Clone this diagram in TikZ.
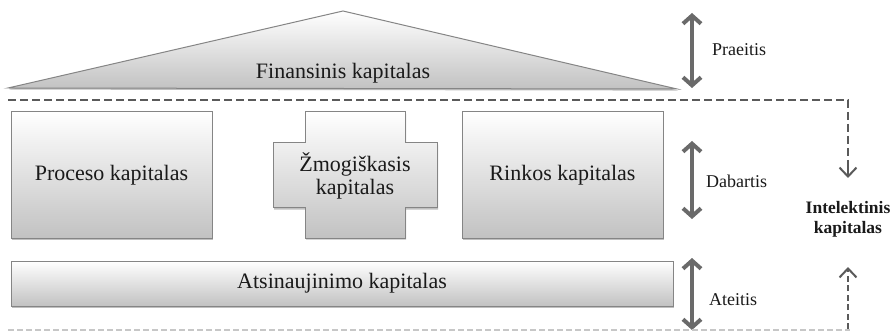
\documentclass[tikz,border=0pt]{standalone}
\usepackage{fontspec}
\setmainfont{Liberation Serif}
\usetikzlibrary{arrows.meta,shadows}
\definecolor{boxline}{HTML}{858585}
\definecolor{dashgray}{HTML}{5A5A5A}
\definecolor{arrowgray}{HTML}{6A6A6A}
\definecolor{inkgray}{HTML}{1A1A1A}
\tikzset{
  shade3d/.style={draw=boxline, line width=1pt, top color=white, bottom color=black!24,
    drop shadow={shadow xshift=1.2pt, shadow yshift=-1.6pt, fill=black!45, opacity=.55}},
  capbox/.style={shade3d, rectangle, inner sep=0pt, font=\fontsize{22}{24}\selectfont, text=inkgray},
  caplabel/.style={font=\fontsize{22}{24}\selectfont, text=inkgray, align=center, inner sep=0pt},
  timelabel/.style={font=\fontsize{18}{20}\selectfont, text=inkgray, anchor=west, inner sep=0pt},
  bigarrow/.style={draw=arrowgray, line width=4.2pt,
    {Straight Barb[length=8pt,width=18pt,line width=4pt]}-{Straight Barb[length=8pt,width=18pt,line width=4pt]}},
  dashline/.style={draw=dashgray, line width=2.4pt, dash pattern=on 8pt off 4pt},
  dasharrow/.style={draw=dashgray, line width=2.2pt, dash pattern=on 6pt off 3.5pt,
    -{Straight Barb[length=9pt,width=17pt,line width=2pt]}},
}
\begin{document}
\begin{tikzpicture}[x=1pt,y=-1pt]
\useasboundingbox[fill=white] (0,0) rectangle (894,331);

% roof: financial capital
\path[shade3d] (8,88) -- (343,11) -- (677,89) -- cycle;
\node[caplabel] (fin) at (343,73) {Finansinis kapitalas};

% upper dashed boundary turning down towards intellectual capital
\coordinate (dstart) at (8,100);
\coordinate (dcorner) at (848,100);
\coordinate (dtip) at (848,178);
\draw[dashline] (dstart) -- (dcorner) -- ([yshift=12pt]dtip);
\draw[dasharrow, solid] ([yshift=12pt]dtip) -- (dtip);

% present: three capital blocks
\node[capbox, minimum width=201pt, minimum height=126pt] (proc) at (111.5,175) {Proceso kapitalas};
\node[capbox, minimum width=201pt, minimum height=126pt] (rink) at (562.5,175) {Rinkos kapitalas};
\path[shade3d] (305,112) -- (405,112) -- (405,143) -- (437,143) -- (437,208) -- (405,208)
  -- (405,238) -- (305,238) -- (305,208) -- (273,208) -- (273,143) -- (305,143) -- cycle;
\node[caplabel] (zmog) at (355,176) {Žmogiškasis\\[-1pt]kapitalas};

% future: renewal capital
\node[capbox, minimum width=662pt, minimum height=45pt] (atsi) at (342,283.5) {Atsinaujinimo kapitalas};

% time axis
\coordinate (p1) at (692,13);  \coordinate (p2) at (692,88);
\coordinate (d1) at (692,141); \coordinate (d2) at (692,219);
\coordinate (a1) at (692,258); \coordinate (a2) at (692,330);
\draw[bigarrow] (p1) -- (p2);
\draw[bigarrow] (d1) -- (d2);
\draw[bigarrow] (a1) -- (a2);
\node[timelabel] (praeitis) at (712,50) {Praeitis};
\node[timelabel] (dabartis) at (706,181) {Dabartis};
\node[timelabel] (ateitis) at (709,300) {Ateitis};

% intellectual capital
\node[font=\bfseries\fontsize{17.5}{20}\selectfont, text=inkgray, align=center, inner sep=0pt]
  (intel) at (848,219) {Intelektinis\\kapitalas};

% lower dashed boundary rising towards intellectual capital
\coordinate (ubase) at (848,329);
\coordinate (utip) at (848,267);
\draw[dasharrow] (ubase) -- (utip);
\coordinate (lstart) at (8,330);
\coordinate (lend) at (850,330);
\draw[draw=black!22, line width=1.2pt, dash pattern=on 6pt off 3pt] (lstart) -- (lend);
\end{tikzpicture}
\end{document}
